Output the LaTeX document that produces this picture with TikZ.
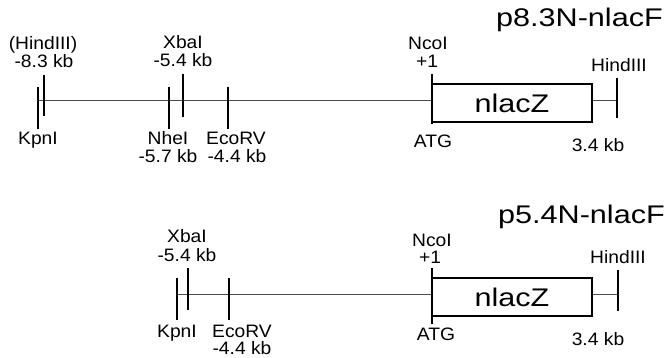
\documentclass[tikz,border=0pt]{standalone}
\usepackage{fontspec}
\setmainfont{Liberation Sans}
\newfontfamily\smallf[FakeStretch=1.07]{Liberation Sans}
\newfontfamily\bigf[FakeStretch=1.2]{Liberation Sans}
\begin{document}
\begin{tikzpicture}[x=1pt,y=-1pt,
  lbl/.style={anchor=base, inner sep=0pt, font=\smallf\fontsize{18}{20}\selectfont},
  ttl/.style={anchor=base east, inner sep=0pt, font=\bigf\fontsize{25.5}{28}\selectfont},
  tick/.style={line width=2.6pt},
  mapline/.style={line width=1pt, black!70},
  gene/.style={draw, line width=2.2pt, minimum width=160pt, minimum height=38pt, inner sep=0pt, font=\bigf\fontsize{25.5}{28}\selectfont}]
\useasboundingbox (0,0) rectangle (666,358);

% ---------- top map: p8.3N-nlacF ----------
\node[ttl] (t1) at (663,27) {p8.3N-nlacF};
\coordinate (a1) at (38,87);  \coordinate (a2) at (38,129);   % KpnI
\coordinate (b1) at (44,75);  \coordinate (b2) at (44,116);   % (HindIII)
\coordinate (c1) at (169,87); \coordinate (c2) at (169,129);  % NheI
\coordinate (d1) at (183,74); \coordinate (d2) at (183,117);  % XbaI
\coordinate (e1) at (228,87); \coordinate (e2) at (228,129);  % EcoRV
\coordinate (f1) at (432,74); \coordinate (f2) at (432,124);  % NcoI
\coordinate (g1) at (617,78); \coordinate (g2) at (617,118);  % HindIII
\coordinate (m0) at (38,101); \coordinate (m1) at (432,101);
\coordinate (m2) at (592,101); \coordinate (m3) at (617,101);
\draw[mapline] (m0) -- (m1);
\draw[mapline] (m2) -- (m3);
\node[gene] (z1) at (512,103) {nlacZ};
\foreach \p in {a,b,c,d,e,f,g} \draw[tick] (\p1) -- (\p2);

\node[lbl] (l1) at (43,50) {(HindIII)};
\node[lbl] (l2) at (44,68) {-8.3 kb};
\node[lbl] (l3) at (183,49) {XbaI};
\node[lbl] (l4) at (183,67) {-5.4 kb};
\node[lbl] (l5) at (38,145) {KpnI};
\node[lbl] (l6) at (168,145) {NheI};
\node[lbl] (l7) at (168,163) {-5.7 kb};
\node[lbl] (l8) at (236,145) {EcoRV};
\node[lbl] (l9) at (237,163) {-4.4 kb};
\node[lbl] (l10) at (428,50) {NcoI};
\node[lbl] (l11) at (427,68) {+1};
\node[lbl] (l12) at (433,148) {ATG};
\node[lbl] (l13) at (598,152) {3.4 kb};
\node[lbl] (l14) at (619,72) {HindIII};

% ---------- bottom map: p5.4N-nlacF ----------
\node[ttl] (t2) at (665,223) {p5.4N-nlacF};
\coordinate (h1) at (177,278); \coordinate (h2) at (177,320);  % KpnI
\coordinate (i1) at (188,268); \coordinate (i2) at (188,310);  % XbaI
\coordinate (j1) at (229,278); \coordinate (j2) at (229,320);  % EcoRV
\coordinate (k1) at (432,268); \coordinate (k2) at (432,324);  % NcoI
\coordinate (n1) at (618,270); \coordinate (n2) at (618,311);  % HindIII
\coordinate (q0) at (177,294); \coordinate (q1) at (432,294);
\coordinate (q2) at (592,294); \coordinate (q3) at (618,294);
\draw[mapline] (q0) -- (q1);
\draw[mapline] (q2) -- (q3);
\node[gene] (z2) at (512,297) {nlacZ};
\foreach \p in {h,i,j,k,n} \draw[tick] (\p1) -- (\p2);

\node[lbl] (r1) at (187,242) {XbaI};
\node[lbl] (r2) at (187,261) {-5.4 kb};
\node[lbl] (r3) at (177,337) {KpnI};
\node[lbl] (r4) at (242,337) {EcoRV};
\node[lbl] (r5) at (242,354) {-4.4 kb};
\node[lbl] (r6) at (432,246) {NcoI};
\node[lbl] (r7) at (430,263) {+1};
\node[lbl] (r8) at (436,340) {ATG};
\node[lbl] (r9) at (598,345) {3.4 kb};
\node[lbl] (r10) at (618,263) {HindIII};
\end{tikzpicture}
\end{document}
